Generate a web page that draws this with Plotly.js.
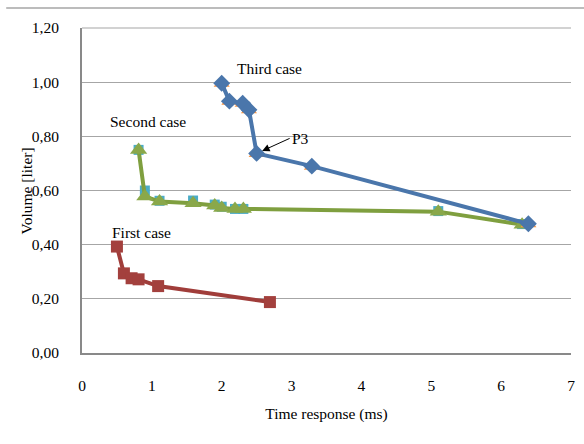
<!DOCTYPE html>
<html><head><meta charset="utf-8">
<script src="https://cdn.plot.ly/plotly-3.0.1.min.js"></script>
<style>html,body{margin:0;padding:0;background:#fff}#c{width:584px;height:444px}
#pre{position:absolute;left:0;top:0;font-family:'Liberation Serif';font-size:14px;color:#fff;z-index:-1}</style>
</head><body><div id="pre">Third case 0123456789,</div><div id="c"></div>
<script>
const firstX = [0.50, 0.60, 0.71, 0.81, 1.09, 2.69];
const firstY = [0.393, 0.294, 0.276, 0.272, 0.247, 0.188];

const secondX = [0.81, 0.90, 1.11, 1.59, 1.90, 2.00, 2.19, 2.31, 5.10, 6.30];
const secondY = [0.750, 0.578, 0.559, 0.553, 0.545, 0.535, 0.532, 0.532, 0.522, 0.474];
const secondBackY = [0.750, 0.600, 0.562, 0.563, 0.548, 0.540, 0.532, 0.532, 0.524, 0.476];

const thirdX = [2.00, 2.11, 2.30, 2.39, 2.50, 3.29, 6.39];
const thirdY = [0.996, 0.930, 0.922, 0.898, 0.737, 0.690, 0.477];

const xTicks = [0, 1, 2, 3, 4, 5, 6, 7];
const yTicks = [0, 0.2, 0.4, 0.6, 0.8, 1.0, 1.2];

const FAM = 'Liberation Serif';
function f() { return {family: FAM, size: 15.5, color: '#000'}; }

const traces = [
  {x: secondX, y: secondBackY, mode: 'markers', marker: {symbol: 'square', size: 10, color: '#4bacc6'}},
  {x: secondX, y: secondY, mode: 'lines+markers', line: {color: '#7f9f3f', width: 4},
   marker: {symbol: 'triangle-up', size: 15, color: '#8aa84a'}},
  {x: firstX, y: firstY, mode: 'lines+markers', line: {color: '#a03d3a', width: 4},
   marker: {symbol: 'square', size: 12, color: '#a3403d'}},
  {x: thirdX, y: thirdY, mode: 'markers', marker: {symbol: 'triangle-up', size: 14, color: '#f79646'}},
  {x: thirdX, y: thirdY, mode: 'lines+markers', line: {color: '#4a76ab', width: 4},
   marker: {symbol: 'diamond', size: 13, color: '#4a76ab'}}
];

const layout = {
  width: 584, height: 444,
  margin: {l: 82, r: 13, t: 28, b: 91},
  paper_bgcolor: '#fff', plot_bgcolor: '#fff',
  showlegend: false,
  separators: ',.',
  font: f(),
  xaxis: {
    range: [0, 7], tickvals: xTicks, ticktext: xTicks.map(String),
    showgrid: false, zeroline: false,
    showline: true, linecolor: '#898989', linewidth: 2,
    ticks: '', ticklabelstandoff: 17, tickfont: f(),
    title: {text: 'Time response (ms)', font: f(), standoff: 16}
  },
  yaxis: {
    range: [0, 1.2], tickvals: yTicks, tickformat: '.2f',
    showgrid: true, gridcolor: '#a6a6a6', gridwidth: 1.2, zeroline: false,
    showline: true, linecolor: '#898989', linewidth: 2,
    ticks: '', ticklabelstandoff: 18, tickfont: f()
  },
  shapes: [
    {type: 'line', xref: 'paper', yref: 'paper', x0: -0.155, x1: 1.03, y0: 1.0615, y1: 1.0615,
     line: {color: '#a6a6a6', width: 1.5}},
    {type: 'line', xref: 'paper', yref: 'paper', x0: 0, x1: 1, y0: 1, y1: 1,
     line: {color: '#a6a6a6', width: 1.2}}
  ],
  annotations: [
    {x: -0.1125, y: 0.5, xref: 'paper', yref: 'paper', text: 'Volume [liter]', textangle: -90,
     showarrow: false, font: f(), xanchor: 'center', yanchor: 'middle'},
    {x: 2.68, y: 1.05, xref: 'x', yref: 'y', text: 'Third case', showarrow: false, font: f()},
    {x: 0.95, y: 0.855, xref: 'x', yref: 'y', text: 'Second case', showarrow: false, font: f()},
    {x: 0.85, y: 0.445, xref: 'x', yref: 'y', text: 'First case', showarrow: false, font: f()},
    {x: thirdX[4], y: thirdY[4], xref: 'x', yref: 'y', text: 'P3', font: f(),
     showarrow: true, arrowhead: 2, arrowsize: 1.5, arrowwidth: 1, arrowcolor: '#000',
     ax: 33, ay: -15, standoff: 6, xanchor: 'left'}
  ]
};

function draw() { Plotly.newPlot('c', traces, layout, {displayModeBar: false, staticPlot: true}); }
if (document.fonts && document.fonts.load) {
  document.fonts.load('14px "Liberation Serif"').then(draw, draw);
} else { draw(); }
</script></body></html>
